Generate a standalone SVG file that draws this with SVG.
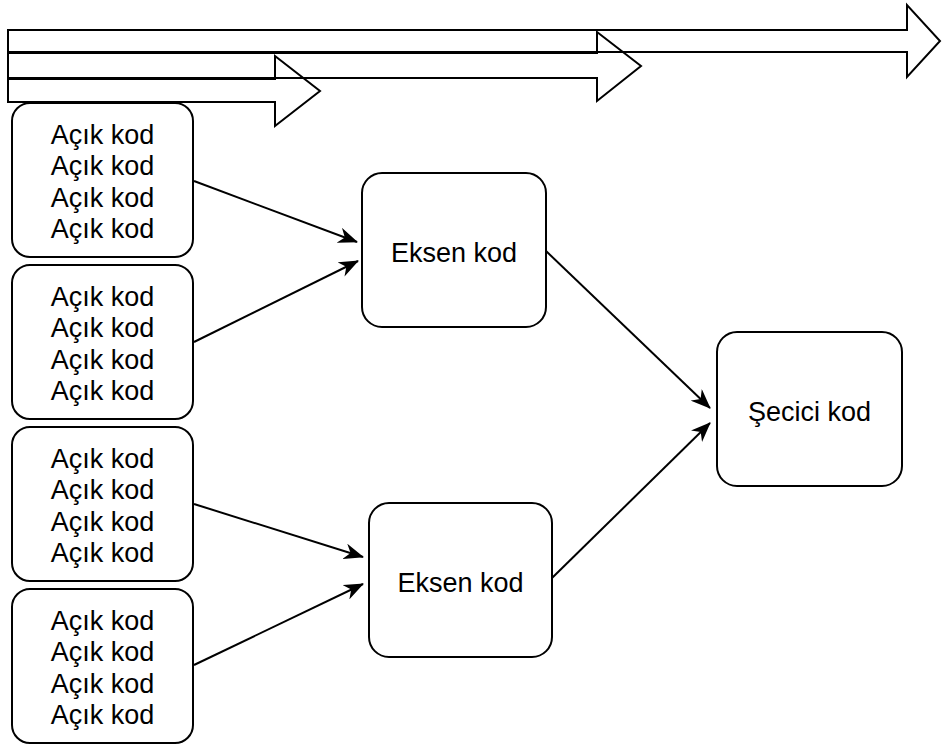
<svg xmlns="http://www.w3.org/2000/svg" width="942" height="744" viewBox="0 0 942 744">
  <style>
    .box { fill: #ffffff; stroke: #000000; stroke-width: 2; }
    .band { fill: none; stroke: #000000; stroke-width: 2; stroke-linejoin: miter; }
    .edge { fill: none; stroke: #000000; stroke-width: 2; }
    .lbl { font-family: "Liberation Sans", Arial, sans-serif; font-size: 27px; fill: #000000; text-anchor: middle; }
  </style>
  <defs>
    <marker id="head" viewBox="0 0 20 16" refX="19" refY="8" markerWidth="20" markerHeight="16" markerUnits="userSpaceOnUse" orient="auto">
      <path d="M20,8 L0,0 L6,8 L0,16 Z" fill="#000000"/>
    </marker>
  </defs>
  <rect x="0" y="0" width="942" height="744" fill="#ffffff"/>

  <!-- stacked block arrows along the top; neighbouring edges touch and read as one heavy rule -->
  <g id="bands">
    <path class="band" d="M8,30 L907,30 L907,5 L940,41 L907,77 L907,52 L8,52 Z"/>
    <path class="band" d="M8,53 L597,53 L597,32 L641,66 L597,101 L597,78 L8,78 Z"/>
    <path class="band" d="M8,79 L275,79 L275,56 L320,91 L275,126 L275,102 L8,102 Z"/>
  </g>

  <g id="connectors">
    <line class="edge" x1="194" y1="181" x2="357" y2="242" marker-end="url(#head)"/>
    <line class="edge" x1="194" y1="342" x2="358" y2="261" marker-end="url(#head)"/>
    <line class="edge" x1="194" y1="504" x2="363" y2="557" marker-end="url(#head)"/>
    <line class="edge" x1="194" y1="665" x2="363" y2="584" marker-end="url(#head)"/>
    <line class="edge" x1="546" y1="251" x2="710" y2="408" marker-end="url(#head)"/>
    <line class="edge" x1="552" y1="578" x2="710" y2="423" marker-end="url(#head)"/>
  </g>

  <g id="acik1">
    <rect class="box" x="12" y="103" width="181" height="154" rx="18" ry="18"/>
    <text class="lbl" x="102.5" y="143.5">Açık kod</text>
    <text class="lbl" x="102.5" y="175">Açık kod</text>
    <text class="lbl" x="102.5" y="206.5">Açık kod</text>
    <text class="lbl" x="102.5" y="238">Açık kod</text>
  </g>
  <g id="acik2">
    <rect class="box" x="12" y="265" width="181" height="154" rx="18" ry="18"/>
    <text class="lbl" x="102.5" y="305.5">Açık kod</text>
    <text class="lbl" x="102.5" y="337">Açık kod</text>
    <text class="lbl" x="102.5" y="368.5">Açık kod</text>
    <text class="lbl" x="102.5" y="400">Açık kod</text>
  </g>
  <g id="acik3">
    <rect class="box" x="12" y="427" width="181" height="154" rx="18" ry="18"/>
    <text class="lbl" x="102.5" y="467.5">Açık kod</text>
    <text class="lbl" x="102.5" y="499">Açık kod</text>
    <text class="lbl" x="102.5" y="530.5">Açık kod</text>
    <text class="lbl" x="102.5" y="562">Açık kod</text>
  </g>
  <g id="acik4">
    <rect class="box" x="12" y="589" width="181" height="154" rx="18" ry="18"/>
    <text class="lbl" x="102.5" y="629.5">Açık kod</text>
    <text class="lbl" x="102.5" y="661">Açık kod</text>
    <text class="lbl" x="102.5" y="692.5">Açık kod</text>
    <text class="lbl" x="102.5" y="724">Açık kod</text>
  </g>

  <g id="eksen1">
    <rect class="box" x="362" y="173" width="184" height="154" rx="20" ry="20"/>
    <text class="lbl" x="454" y="262">Eksen kod</text>
  </g>
  <g id="eksen2">
    <rect class="box" x="369" y="503" width="183" height="154" rx="20" ry="20"/>
    <text class="lbl" x="460.5" y="592">Eksen kod</text>
  </g>

  <g id="secici">
    <rect class="box" x="717" y="332" width="185" height="154" rx="20" ry="20"/>
    <text class="lbl" x="809.5" y="421">Şecici kod</text>
  </g>
</svg>
